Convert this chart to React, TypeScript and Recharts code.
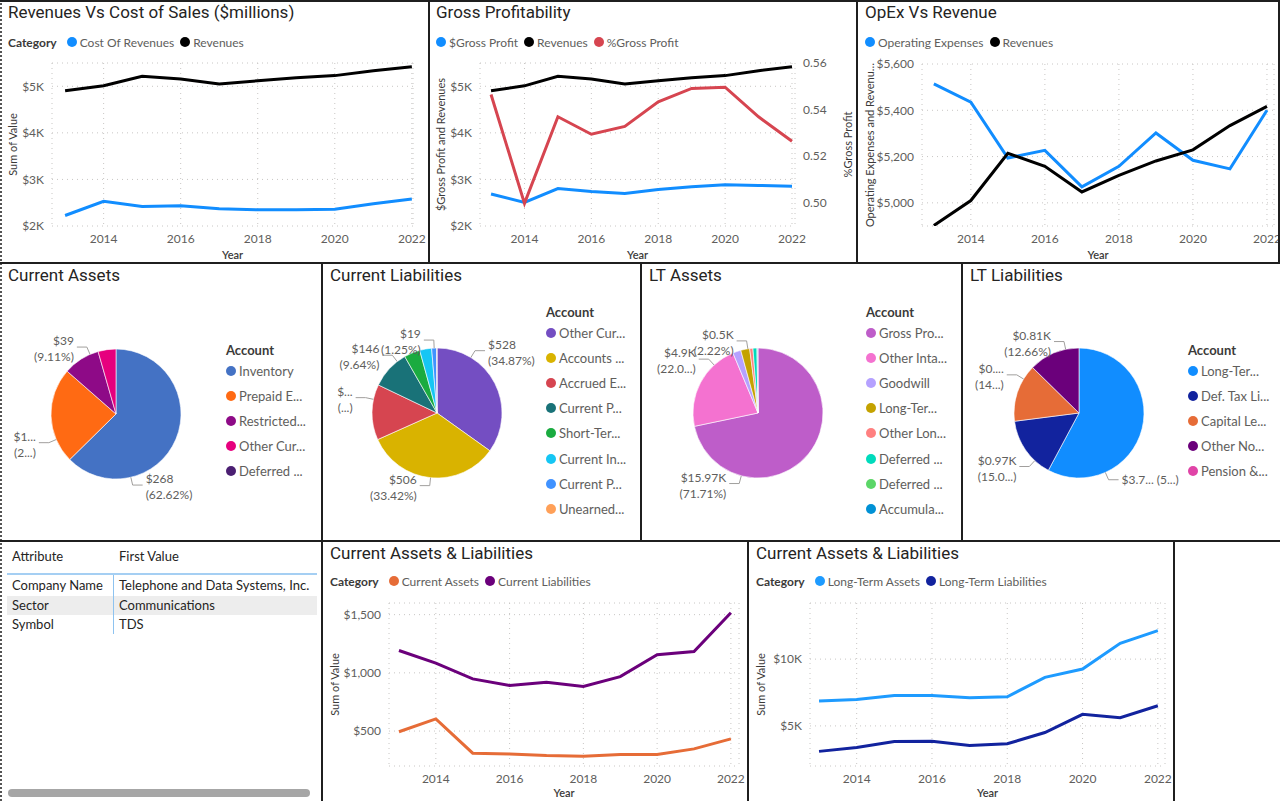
import React from "react";
import { LineChart, Line, XAxis, YAxis, CartesianGrid, Label, PieChart, Pie, Cell } from "recharts";

// ---- data ----
const years = [2013, 2014, 2015, 2016, 2017, 2018, 2019, 2020, 2021, 2022];
const xTicks = [2014, 2016, 2018, 2020, 2022];

const revenues = [4902, 5010, 5214, 5158, 5047, 5119, 5181, 5229, 5334, 5417];
const costOfRevenues = [2225, 2529, 2420, 2435, 2370, 2348, 2348, 2362, 2478, 2580];
const grossProfit = [2688, 2507, 2804, 2739, 2696, 2783, 2841, 2884, 2870, 2855];
const grossMargin = [0.5465, 0.4997, 0.5369, 0.5294, 0.5328, 0.5433, 0.5491, 0.5496, 0.5369, 0.5264];
const opex = [5514, 5435, 5194, 5227, 5069, 5158, 5302, 5184, 5147, 5400];
const currentAssets = [494, 605, 310, 304, 290, 284, 298, 298, 347, 433];
const currentLiabilities = [1192, 1083, 948, 891, 920, 883, 968, 1155, 1183, 1516];
const ltAssets = [6856, 6980, 7277, 7277, 7104, 7178, 8639, 9257, 11188, 12129];
const ltLiabilities = [3094, 3391, 3837, 3861, 3540, 3663, 4505, 5866, 5619, 6510];

const caNames = ["Inventory", "Prepaid E...", "Restricted...", "Other Cur...", "Deferred ..."];
const caValues = [268, 102, 39, 19, 0];
const caLabels = [["$268", "(62.62%)"], ["$1...", "(2...)"], ["$39", "(9.11%)"], null, null];

const clNames = ["Other Cur...", "Accounts ...", "Accrued E...", "Current P...", "Short-Ter...", "Current In...", "Current P...", "Unearned..."];
const clValues = [528, 506, 209, 146, 60, 45, 19, 1];
const clLabels = [["$528", "(34.87%)"], ["$506", "(33.42%)"], ["$...", "(...)"], ["$146", "(9.64%)"], null, null, ["$19", "(1.25%)"], null];

const ltaNames = ["Gross Pro...", "Other Inta...", "Goodwill", "Long-Ter...", "Other Lon...", "Deferred ...", "Deferred ...", "Accumula..."];
const ltaValues = [15970, 4900, 450, 494, 180, 220, 30, 27];
const ltaLabels = [["$15.97K", "(71.71%)"], ["$4.9K", "(22.0...)"], null, ["$0.5K", "(2.22%)"], null, null, null, null];

const ltlNames = ["Long-Ter...", "Def. Tax Li...", "Capital Le...", "Other No...", "Pension &..."];
const ltlValues = [3700, 970, 920, 810, 0];
const ltlLabels = [["$3.7... (5...)"], ["$0.97K", "(15.0...)"], ["$0....", "(14...)"], ["$0.81K", "(12.66%)"], null];

const tableRows = [
  ["Company Name", "Telephone and Data Systems, Inc."],
  ["Sector", "Communications"],
  ["Symbol", "TDS"],
];

// ---- styles ----
const FONT = "'Segoe UI', Lato, sans-serif";
const TITLE_FONT = "Roboto, sans-serif";
const GRAY = "#605E5C";
const DARK = "#252423";

const fmtK = (v: number) => `$${v / 1000}K`;
const fmtComma = (v: number) => "$" + v.toLocaleString("en-US");
const fmtPct = (v: number) => v.toFixed(2);

const rowsOf = (cols: Record<string, number[]>) =>
  years.map((y, i) => {
    const r: any = { year: y };
    Object.keys(cols).forEach((k) => (r[k] = cols[k][i]));
    return r;
  });

function Title({ text }: { text: string }) {
  return (
    <div style={{ position: "absolute", left: 8, top: 2, fontFamily: TITLE_FONT, fontSize: 17, color: DARK, whiteSpace: "nowrap" }}>
      {text}
    </div>
  );
}

function LineLegend({ top, category, items }: { top: number; category: boolean; items: { name: string; color: string }[] }) {
  return (
    <div style={{ position: "absolute", left: 8, top: top - 8, height: 16, display: "flex", alignItems: "center", fontFamily: FONT, fontSize: 12, color: GRAY, whiteSpace: "nowrap" }}>
      {category && <span style={{ fontWeight: 700, color: "#3B3A39", marginRight: 10 }}>Category</span>}
      {items.map((it) => (
        <span key={it.name} style={{ display: "flex", alignItems: "center", marginRight: 6 }}>
          <span style={{ width: 10, height: 10, borderRadius: 5, background: it.color, marginRight: 3 }} />
          {it.name}
        </span>
      ))}
    </div>
  );
}

type Series = { key: string; name: string; color: string; axis?: string };

function LinePanel(props: any) {
  const { left, top, w, h, title, category, series, rows, plot, xDomain, yDomain, yTicks, yFmt, yTitle, right, legendTop } = props;
  const rw = right ? w - plot.r : 0;
  const tick = { fill: GRAY, fontSize: 12, fontFamily: FONT };
  return (
    <div style={{ position: "absolute", left, top, width: w, height: h }}>
      <div style={{ position: "absolute", left: 0, top: 0 }}>
        <LineChart width={w} height={h} data={rows} margin={{ top: plot.t, right: right ? 0 : w - plot.r, left: 0, bottom: 0 }}>
          <CartesianGrid yAxisId="left" stroke="#C8C6C4" strokeDasharray="1 4" />
          <XAxis dataKey="year" type="number" domain={xDomain} ticks={xTicks} height={h - plot.b} tickLine={false} axisLine={false} tick={tick} interval={0}>
            <Label value="Year" position="insideBottom" offset={4} style={{ fill: "#3B3A39", fontSize: 11, fontWeight: 600, fontFamily: FONT }} />
          </XAxis>
          <YAxis yAxisId="left" width={plot.l} domain={yDomain} ticks={yTicks} tickFormatter={yFmt} tickLine={false} axisLine={false} tick={tick} interval={0} allowDataOverflow>
            <Label value={yTitle} angle={-90} position="insideLeft" offset={13} style={{ textAnchor: "middle", fill: "#3B3A39", fontSize: 11, fontFamily: FONT }} />
          </YAxis>
          {right && (
            <YAxis yAxisId="right" orientation="right" width={rw} domain={right.domain} ticks={right.ticks} tickFormatter={right.fmt} tickLine={false} axisLine={false} tick={tick} interval={0} allowDataOverflow>
              <Label value={right.title} angle={-90} position="insideRight" offset={9} style={{ textAnchor: "middle", fill: "#3B3A39", fontSize: 11, fontFamily: FONT }} />
            </YAxis>
          )}
          {series.map((s: Series) => (
            <Line key={s.key} yAxisId={s.axis || "left"} type="linear" dataKey={s.key} name={s.name} stroke={s.color} strokeWidth={3} dot={false} activeDot={false} isAnimationActive={false} />
          ))}
        </LineChart>
      </div>
      <Title text={title} />
      <LineLegend top={legendTop} category={category} items={series} />
    </div>
  );
}

function PiePanel(props: any) {
  const { left, top, w, h, title, names, values, colors, labels, labelAt, cx, cy, legendTop, legendX } = props;
  const rows = names.map((n: string, i: number) => ({ name: n, value: values[i] }));
  const renderLabel = (p: any) => {
    const i = p.index;
    const lines = labels[i];
    if (!lines) return null;
    const ang = p.startAngle + labelAt[i] * (p.endAngle - p.startAngle);
    const rad = (-ang * Math.PI) / 180;
    const cos = Math.cos(rad);
    const sin = Math.sin(rad);
    const r = p.outerRadius;
    const px = p.cx + r * cos;
    const py = p.cy + r * sin;
    const ex = p.cx + (r + 8) * cos;
    const ey = p.cy + (r + 8) * sin;
    const toRight = cos >= 0;
    const hx = ex + (toRight ? 10 : -10);
    const tx = hx + (toRight ? 3 : -3);
    const st = { fill: GRAY, fontSize: 12, fontFamily: FONT };
    return (
      <g key={"lbl" + i}>
        <polyline points={`${px},${py} ${ex},${ey} ${hx},${ey}`} fill="none" stroke="#A19F9D" strokeWidth={1} />
        {lines.length === 1 ? (
          <text x={tx} y={ey + 4} textAnchor={toRight ? "start" : "end"} style={st}>{lines[0]}</text>
        ) : (
          <>
            <text x={tx} y={ey - 2} textAnchor={toRight ? "start" : "end"} style={st}>{lines[0]}</text>
            <text x={tx} y={ey + 14} textAnchor={toRight ? "start" : "end"} style={st}>{lines[1]}</text>
          </>
        )}
      </g>
    );
  };
  return (
    <div style={{ position: "absolute", left, top, width: w, height: h }}>
      <div style={{ position: "absolute", left: 0, top: 0 }}>
        <PieChart width={w} height={h} margin={{ top: 0, right: 0, left: 0, bottom: 0 }}>
          <Pie data={rows} dataKey="value" nameKey="name" cx={cx} cy={cy} outerRadius={65} startAngle={90} endAngle={-270} stroke="#fff" strokeWidth={0.6} isAnimationActive={false} label={renderLabel} labelLine={false}>
            {rows.map((r: any, i: number) => (
              <Cell key={i} fill={colors[i]} />
            ))}
          </Pie>
        </PieChart>
      </div>
      <Title text={title} />
      <div style={{ position: "absolute", left: legendX, top: legendTop - 9, fontFamily: FONT, fontSize: 13, color: "#3B3A39", fontWeight: 700, lineHeight: "18px" }}>Account</div>
      {names.map((n: string, i: number) => (
        <div key={i} style={{ position: "absolute", left: legendX, top: legendTop + 21 + i * 25.1 - 9, height: 18, display: "flex", alignItems: "center", fontFamily: FONT, fontSize: 13, color: GRAY, whiteSpace: "nowrap" }}>
          <span style={{ width: 10, height: 10, borderRadius: 5, background: colors[i], marginRight: 3 }} />
          {n}
        </div>
      ))}
    </div>
  );
}

const line = (l: number, t: number, w: number, h: number, c = "#1f1f1f") => (
  <div key={`${l}-${t}-${w}-${h}`} style={{ position: "absolute", left: l, top: t, width: w, height: h, background: c }} />
);

export default function App() {
  return (
    <div style={{ position: "absolute", left: 0, top: 0, width: 1280, height: 801, background: "#fff", overflow: "hidden" }}>
      <style>{"body{margin:0}"}</style>

      <LinePanel
        left={0} top={0} w={428} h={263} title="Revenues Vs Cost of Sales ($millions)" category legendTop={42}
        series={[{ key: "cost", name: "Cost Of Revenues", color: "#118DFF" }, { key: "rev", name: "Revenues", color: "#000000" }]}
        rows={rowsOf({ cost: costOfRevenues, rev: revenues })}
        plot={{ l: 52, r: 413, t: 63, b: 226 }} xDomain={[2012.66, 2022.03]}
        yDomain={[2000, 5500]} yTicks={[2000, 3000, 4000, 5000]} yFmt={fmtK} yTitle="Sum of Value"
      />
      <LinePanel
        left={428} top={0} w={429} h={263} title="Gross Profitability" category={false} legendTop={42}
        series={[
          { key: "gp", name: "$Gross Profit", color: "#118DFF" },
          { key: "rev", name: "Revenues", color: "#000000" },
          { key: "gm", name: "%Gross Profit", color: "#D64550", axis: "right" },
        ]}
        rows={rowsOf({ gp: grossProfit, rev: revenues, gm: grossMargin })}
        plot={{ l: 52, r: 367, t: 63, b: 226 }} xDomain={[2012.67, 2022.09]}
        yDomain={[2000, 5500]} yTicks={[2000, 3000, 4000, 5000]} yFmt={fmtK} yTitle="$Gross Profit and Revenues"
        right={{ domain: [0.49, 0.56], ticks: [0.5, 0.52, 0.54, 0.56], fmt: fmtPct, title: "%Gross Profit" }}
      />
      <LinePanel
        left={857} top={0} w={423} h={263} title="OpEx Vs Revenue" category={false} legendTop={42}
        series={[{ key: "opex", name: "Operating Expenses", color: "#118DFF" }, { key: "rev", name: "Revenues", color: "#000000" }]}
        rows={rowsOf({ opex: opex, rev: revenues })}
        plot={{ l: 65, r: 417, t: 64, b: 226 }} xDomain={[2012.68, 2022.19]}
        yDomain={[4900, 5600]} yTicks={[5000, 5200, 5400, 5600]} yFmt={fmtComma} yTitle="Operating Expenses and Revenu…"
      />

      <PiePanel
        left={0} top={263} w={322} h={278} title="Current Assets" cx={116} cy={151}
        names={caNames} values={caValues} labels={caLabels} labelAt={[0.74, 0.25, 0.77, 0.5, 0.5]}
        colors={["#4472C4", "#FF6A13", "#8E0A87", "#E6007E", "#4B1F72"]} legendTop={87} legendX={226}
      />
      <PiePanel
        left={322} top={263} w={319} h={278} title="Current Liabilities" cx={115} cy={150}
        names={clNames} values={clValues} labels={clLabels} labelAt={[0.25, 0.5, 0.73, 0.77, 0.5, 0.5, 0.5, 0.5]}
        colors={["#744EC2", "#D9B300", "#D64550", "#197278", "#1AAB40", "#15C6F4", "#4092FF", "#FFA058"]} legendTop={49} legendX={224}
      />
      <PiePanel
        left={641} top={263} w={321} h={278} title="LT Assets" cx={117} cy={150}
        names={ltaNames} values={ltaValues} labels={ltaLabels} labelAt={[0.755, 0.75, 0.5, 0.8, 0.5, 0.5, 0.5, 0.5]}
        colors={["#BE5DC9", "#F472D0", "#B5A1FF", "#C4A200", "#FF8080", "#00DBBC", "#5BD667", "#0091D5"]} legendTop={49} legendX={225}
      />
      <PiePanel
        left={962} top={263} w={318} h={278} title="LT Liabilities" cx={117} cy={150}
        names={ltlNames} values={ltlValues} labels={ltlLabels} labelAt={[0.75, 0.27, 0.75, 0.74, 0.5]}
        colors={["#118DFF", "#12239E", "#E66C37", "#6B007B", "#E044A7"]} legendTop={87} legendX={226}
      />

      {/* table */}
      <div style={{ position: "absolute", left: 0, top: 541, width: 322, height: 260, fontFamily: FONT, fontSize: 13, color: DARK }}>
        <div style={{ position: "absolute", left: 12, top: 7 }}>Attribute</div>
        <div style={{ position: "absolute", left: 119, top: 7 }}>First Value</div>
        <div style={{ position: "absolute", left: 7, top: 32, width: 310, height: 2, background: "#A5CFF3" }} />
        {tableRows.map((r, i) => (
          <div key={i} style={{ position: "absolute", left: 7, top: 35 + i * 19.5, width: 310, height: 19, background: i === 1 ? "#EDEDED" : "transparent", whiteSpace: "nowrap" }}>
            <span style={{ position: "absolute", left: 5, top: 1 }}>{r[0]}</span>
            <span style={{ position: "absolute", left: 112, top: 1 }}>{r[1]}</span>
          </div>
        ))}
        <div style={{ position: "absolute", left: 113, top: 34, width: 1, height: 59, background: "#8EC3F0" }} />
        <div style={{ position: "absolute", left: 8, top: 248, width: 302, height: 8, borderRadius: 4, background: "#A6A6A6" }} />
      </div>

      <LinePanel
        left={322} top={541} w={426} h={260} title="Current Assets & Liabilities" category legendTop={40}
        series={[{ key: "ca", name: "Current Assets", color: "#E66C37" }, { key: "cl", name: "Current Liabilities", color: "#6B007B" }]}
        rows={rowsOf({ ca: currentAssets, cl: currentLiabilities })}
        plot={{ l: 67, r: 417, t: 62, b: 225 }} xDomain={[2012.73, 2022.22]}
        yDomain={[200, 1600]} yTicks={[500, 1000, 1500]} yFmt={fmtComma} yTitle="Sum of Value"
      />
      <LinePanel
        left={748} top={541} w={426} h={260} title="Current Assets & Liabilities" category legendTop={40}
        series={[{ key: "lta", name: "Long-Term Assets", color: "#1E9BFF" }, { key: "ltl", name: "Long-Term Liabilities", color: "#12239E" }]}
        rows={rowsOf({ lta: ltAssets, ltl: ltLiabilities })}
        plot={{ l: 62, r: 417, t: 62, b: 225 }} xDomain={[2012.76, 2022.19]}
        yDomain={[2000, 14200]} yTicks={[5000, 10000]} yFmt={fmtK} yTitle="Sum of Value"
      />

      {/* frame lines */}
      <div style={{ position: "absolute", left: 0, top: 0, width: 0, height: 801, borderLeft: "2px dotted #555" }} />
      {line(0, 0, 1280, 2)}
      {line(0, 262, 1280, 2)}
      {line(0, 540, 1280, 2)}
      {line(428, 0, 2, 263)}
      {line(856, 0, 2, 263)}
      {line(1278, 0, 2, 263)}
      {line(321, 263, 2, 278)}
      {line(640, 263, 2, 278)}
      {line(961, 263, 2, 278)}
      {line(321, 541, 2, 260)}
      {line(747, 541, 2, 260)}
      {line(1173, 541, 2, 260)}
    </div>
  );
}
